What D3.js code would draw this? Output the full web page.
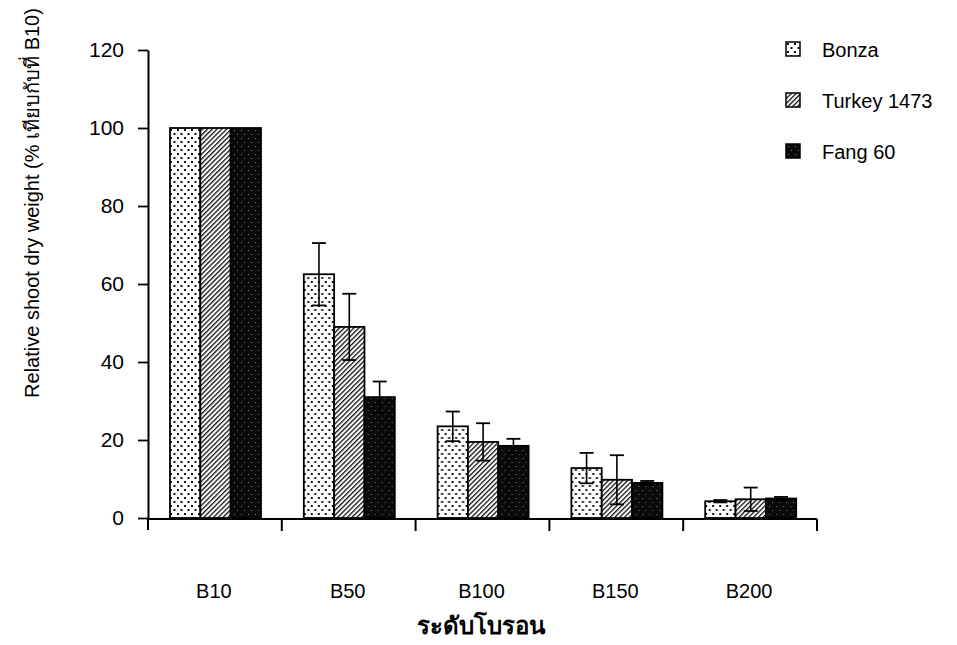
<!DOCTYPE html>
<html>
<head>
<meta charset="utf-8">
<script src="https://cdn.jsdelivr.net/npm/d3@7/dist/d3.min.js"></script>
<style>
  html, body { margin: 0; padding: 0; background: #fff; }
  svg { display: block; }
  text { font-family: "Liberation Sans", Arial, "Noto Sans", sans-serif; fill: #000; }
</style>
</head>
<body>
<svg id="chart" width="957" height="645"></svg>
<script>
const categories = ["B10", "B50", "B100", "B150", "B200"];
const seriesNames = ["Bonza", "Turkey 1473", "Fang 60"];
const bonza = [100, 62.5, 23.5, 12.8, 4.3];
const bonzaErr = [0, 8, 3.8, 3.9, 0.3];
const turkey = [100, 49, 19.5, 9.8, 4.8];
const turkeyErr = [0, 8.5, 4.8, 6.3, 3];
const fang = [100, 31, 18.5, 9, 5];
const fangErr = [0, 4, 1.8, 0.5, 0.4];
const yTicks = [0, 20, 40, 60, 80, 100, 120];
const yTitle = "Relative shoot dry weight (% เทียบกับที่ B10)";
const xTitle = "ระดับโบรอน";

(function () {
const seriesValues = [bonza, turkey, fang];
const seriesErrors = [bonzaErr, turkeyErr, fangErr];
const patternIds = ["pBonza", "pTurkey", "pFang"];

const svg = d3.select("#chart");
const plotLeft = 148, plotRight = 817, plotTop = 50, plotBottom = 518;

const x = d3.scaleBand().domain(categories).range([plotLeft, plotRight]).padding(0);
const xs = d3.scaleBand().domain(seriesNames).range([22, 113]).padding(0);
const y = d3.scaleLinear().domain([0, 120]).range([plotBottom, plotTop]);

// patterns
const defs = svg.append("defs");
const pb = defs.append("pattern").attr("id", "pBonza").attr("patternUnits", "userSpaceOnUse")
  .attr("width", 7).attr("height", 8);
pb.append("rect").attr("width", 7).attr("height", 8).attr("fill", "#fff");
pb.append("rect").attr("x", 1).attr("y", 1).attr("width", 2).attr("height", 2).attr("fill", "#111");
pb.append("rect").attr("x", 4.5).attr("y", 5).attr("width", 2).attr("height", 2).attr("fill", "#111");

const pt = defs.append("pattern").attr("id", "pTurkey").attr("patternUnits", "userSpaceOnUse")
  .attr("width", 3.4).attr("height", 3.4).attr("patternTransform", "rotate(45)");
pt.append("rect").attr("width", 3.4).attr("height", 3.4).attr("fill", "#fff");
pt.append("line").attr("x1", 0).attr("y1", 0).attr("x2", 0).attr("y2", 3.4)
  .attr("stroke", "#111").attr("stroke-width", 2.6);

const pf = defs.append("pattern").attr("id", "pFang").attr("patternUnits", "userSpaceOnUse")
  .attr("width", 7).attr("height", 8);
pf.append("rect").attr("width", 7).attr("height", 8).attr("fill", "#0a0a0a");
pf.append("rect").attr("x", 2).attr("y", 2).attr("width", 1).attr("height", 1).attr("fill", "#777");
pf.append("rect").attr("x", 5).attr("y", 6).attr("width", 1).attr("height", 1).attr("fill", "#777");

// bars
const groups = svg.append("g").selectAll("g").data(categories).join("g")
  .attr("transform", d => `translate(${x(d)},0)`);

seriesNames.forEach((s, si) => {
  groups.append("rect")
    .attr("x", xs(s))
    .attr("width", xs.bandwidth())
    .attr("y", (d, i) => y(seriesValues[si][i]))
    .attr("height", (d, i) => plotBottom - y(seriesValues[si][i]))
    .attr("fill", `url(#${patternIds[si]})`)
    .attr("stroke", "#000").attr("stroke-width", 1.8);
});

// error bars
seriesNames.forEach((s, si) => {
  groups.each(function (d, i) {
    const e = seriesErrors[si][i];
    if (!e) return;
    const v = seriesValues[si][i];
    const cx = xs(s) + xs.bandwidth() / 2;
    const g = d3.select(this);
    g.append("line").attr("x1", cx).attr("x2", cx).attr("y1", y(v - e)).attr("y2", y(v + e))
      .attr("stroke", "#000").attr("stroke-width", 1.6);
    g.append("line").attr("x1", cx - 7).attr("x2", cx + 7).attr("y1", y(v + e)).attr("y2", y(v + e))
      .attr("stroke", "#000").attr("stroke-width", 1.8);
    g.append("line").attr("x1", cx - 7).attr("x2", cx + 7).attr("y1", y(v - e)).attr("y2", y(v - e))
      .attr("stroke", "#000").attr("stroke-width", 1.8);
  });
});

// y axis
const yAxis = svg.append("g").attr("transform", `translate(${plotLeft},0)`)
  .call(d3.axisLeft(y).tickValues(yTicks).tickSize(10).tickSizeOuter(0).tickPadding(14));
yAxis.select(".domain").attr("stroke-width", 2);
yAxis.selectAll(".tick line").attr("stroke-width", 1.8);
yAxis.selectAll(".tick text").style("font-size", "21px").style("font-family", "'Liberation Sans', Arial, sans-serif").attr("fill", "#000");
svg.append("line").attr("x1", plotLeft).attr("x2", plotLeft).attr("y1", plotBottom).attr("y2", plotBottom + 12)
  .attr("stroke", "#000").attr("stroke-width", 2);

// x axis
svg.append("line").attr("x1", plotLeft).attr("x2", plotRight).attr("y1", plotBottom + 1).attr("y2", plotBottom + 1)
  .attr("stroke", "#000").attr("stroke-width", 2);
const xTickPos = categories.map(c => x(c)).concat([x.range()[1]]);
svg.append("g").selectAll("line").data(xTickPos.slice(1)).join("line")
  .attr("x1", d => d).attr("x2", d => d).attr("y1", plotBottom + 1).attr("y2", plotBottom + 13)
  .attr("stroke", "#000").attr("stroke-width", 2);
svg.append("g").selectAll("text").data(categories).join("text")
  .attr("x", d => x(d) + x.bandwidth() / 2 - 1)
  .attr("y", 598)
  .attr("text-anchor", "middle")
  .style("font-size", "20px")
  .text(d => d);

// axis titles
svg.append("text")
  .attr("transform", "translate(39,203) rotate(-90)")
  .attr("text-anchor", "middle")
  .style("font-size", "20px")
  .text(yTitle);
svg.append("text")
  .attr("x", 481).attr("y", 634)
  .attr("text-anchor", "middle")
  .style("font-size", "24px").style("font-weight", "bold")
  .text(xTitle);

// legend
const legend = svg.append("g").selectAll("g").data(seriesNames).join("g")
  .attr("transform", (d, i) => `translate(786,${42 + i * 51})`);
legend.append("rect").attr("width", 14).attr("height", 14)
  .attr("fill", (d, i) => `url(#${patternIds[i]})`)
  .attr("stroke", "#000").attr("stroke-width", 1.5);
legend.append("text").attr("x", 36).attr("y", 15)
  .style("font-size", "20px")
  .text(d => d);
})();
</script>
</body>
</html>
